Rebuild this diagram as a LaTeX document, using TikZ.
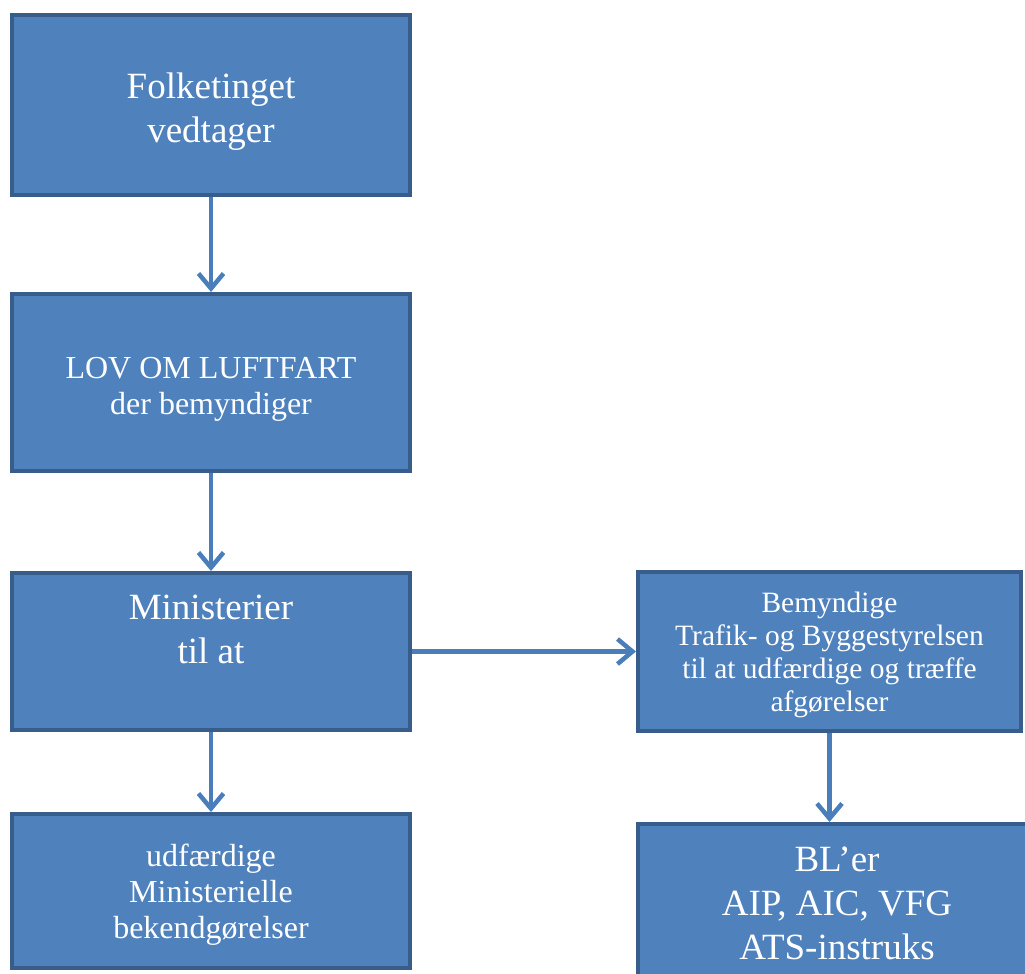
\documentclass[tikz,border=0pt]{standalone}
\usepackage{fontspec}
\setmainfont{Liberation Serif}
\usepackage{tikz}
\usetikzlibrary{shapes}
\usetikzlibrary{arrows.meta}

\definecolor{boksblaa}{HTML}{4F81BD}
\definecolor{kantblaa}{HTML}{385D8A}
\definecolor{pilblaa}{HTML}{4A7EBB}

\begin{document}
\begin{tikzpicture}[x=1pt,y=1pt]
	\tikzstyle{boks}=[rectangle,draw=kantblaa,fill=boksblaa,line width=4pt,text=white,align=center,inner sep=0pt]
	\tikzstyle{pil}=[draw=pilblaa,line width=4.5pt,-{Straight Barb[length=15pt,width=25pt,line width=4.5pt]}]
	\tikzstyle{stor}=[font=\fontsize{37}{44}\selectfont]
	\tikzstyle{mellem}=[font=\fontsize{32}{36}\selectfont]
	\tikzstyle{lille}=[font=\fontsize{29.5}{33}\selectfont]

	\useasboundingbox (0,0) rectangle (1025,-974);
	\clip (0,0) rectangle (1025,-974);

	\node[boks,stor,minimum width=398pt,minimum height=180pt] (folketing) at (211,-105) {\rule{0pt}{38pt}Folketinget\\vedtager};
	\node[boks,mellem,minimum width=398pt,minimum height=177pt] (lov) at (211,-382.5) {\rule{0pt}{35pt}LOV OM LUFTFART\\der bemyndiger};
	\node[boks,stor,minimum width=398pt,minimum height=157pt] (minist) at (211,-651.5) {Ministerier\\til at\\\mbox{}};
	\node[boks,mellem,minimum width=398pt,minimum height=154pt] (udfaerd) at (211,-891) {\rule{0pt}{29pt}udfærdige\\Ministerielle\\bekendgørelser};
	\node[boks,lille,minimum width=383pt,minimum height=159pt] (styrelse) at (829.5,-651.5) {\rule{0pt}{28pt}Bemyndige\\Trafik- og Byggestyrelsen\\til at udfærdige og træffe\\afgørelser};
	\node[boks,stor,minimum width=398pt,minimum height=158pt] (bler) at (837,-903) {BL’er\\AIP, AIC, VFG\\ATS-instruks};

	\draw[pil] (folketing) -- (lov);
	\draw[pil] (lov) -- (minist);
	\draw[pil] (minist) -- (udfaerd);
	\draw[pil] (minist.east) -- (styrelse.west);
	\draw[pil] (styrelse.south) -- (styrelse.south |- bler.north);
\end{tikzpicture}
\end{document}
